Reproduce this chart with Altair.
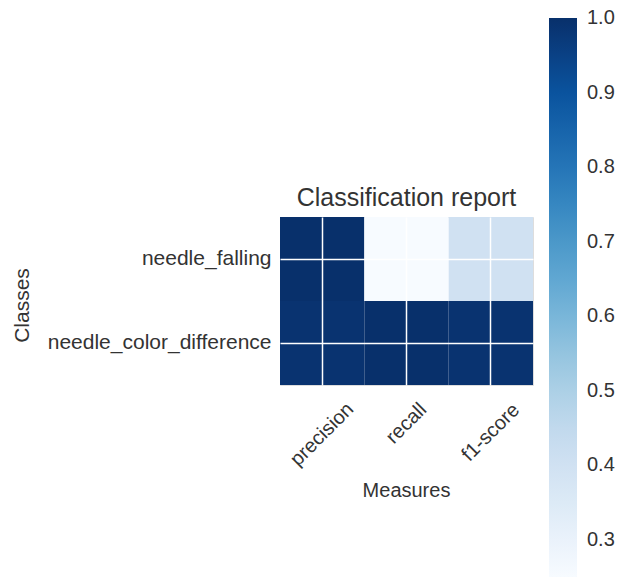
import altair as alt
import pandas as pd

# Classification report scores per class
classes = ["needle_falling", "needle_color_difference"]
measures = ["precision", "recall", "f1-score"]
needle_falling_scores = [1.00, 0.25, 0.40]
needle_color_difference_scores = [0.99, 1.00, 0.99]

# Colorbar range and tick labels
vmin, vmax = 0.25, 1.0001
cbar_ticks = [0.3, 0.4, 0.5, 0.6, 0.7, 0.8, 0.9, 1.0]

# matplotlib "Blues" colormap stops
blues = ["#f7fbff", "#deebf7", "#c6dbef", "#9ecae1", "#6baed6",
         "#4292c6", "#2171b5", "#08519c", "#08306b"]

rows = []
for cls, scores in zip(classes, [needle_falling_scores, needle_color_difference_scores]):
    for m, v in zip(measures, scores):
        rows.append({"Classes": cls, "Measures": m, "score": v})
df = pd.DataFrame(rows)

stops = [vmin + (vmax - vmin) * i / (len(blues) - 1) for i in range(len(blues))]

FONT = "Liberation Sans"
TEXT = "#333333"

x_label_pad = {
    "condition": [
        {"test": "datum.value === 'recall'", "value": 38},
        {"test": "datum.value === 'f1-score'", "value": 47},
    ],
    "value": 49,
}

x_axis = alt.Axis(
    labelAngle=-45, labelAlign="center", labelBaseline="middle",
    labelPadding=x_label_pad, ticks=False, domain=False,
    grid=True, gridColor="white", gridWidth=1.5, bandPosition=0.5, zindex=1,
    labelFont=FONT, labelFontSize=20, labelColor=TEXT,
    titleFont=FONT, titleFontSize=20, titleColor=TEXT, titleFontWeight="normal",
    titleX=126, titleY=105, titleAlign="center", titleBaseline="middle",
)

y_axis = alt.Axis(
    labelPadding=9, labelLimit=400, ticks=False, domain=False,
    grid=True, gridColor="white", gridWidth=1.5, bandPosition=0.5, zindex=1,
    labelFont=FONT, labelFontSize=21, labelColor=TEXT,
    titleFont=FONT, titleFontSize=21, titleColor=TEXT, titleFontWeight="normal",
    titleX=-258, titleY=88, titleAlign="center", titleBaseline="middle",
)

legend = alt.Legend(
    title=None, orient="none", legendX=269, legendY=-199,
    direction="vertical", gradientLength=559, gradientThickness=28,
    gradientStrokeWidth=0, values=cbar_ticks, format=".1f",
    labelFont=FONT, labelFontSize=20, labelColor=TEXT, labelOffset=10,
)

chart = alt.Chart(df).mark_rect().encode(
    x=alt.X("Measures:N", sort=measures, title="Measures", axis=x_axis),
    y=alt.Y("Classes:N", sort=classes, title="Classes", axis=y_axis),
    color=alt.Color(
        "score:Q",
        scale=alt.Scale(domain=stops, range=blues, clamp=True),
        legend=legend,
    ),
).properties(
    width=253,
    height=168,
    title=alt.TitleParams(
        "Classification report", font=FONT, fontSize=25, color=TEXT,
        fontWeight="normal", anchor="middle", offset=6, dy=199,
    ),
    padding={"left": 280, "top": 217, "right": 86, "bottom": 198},
    autosize=alt.AutoSizeParams(type="none"),
).configure_view(strokeWidth=0).configure(background="white")

chart.save("out.html", embed_options={"renderer": "svg", "actions": False})
